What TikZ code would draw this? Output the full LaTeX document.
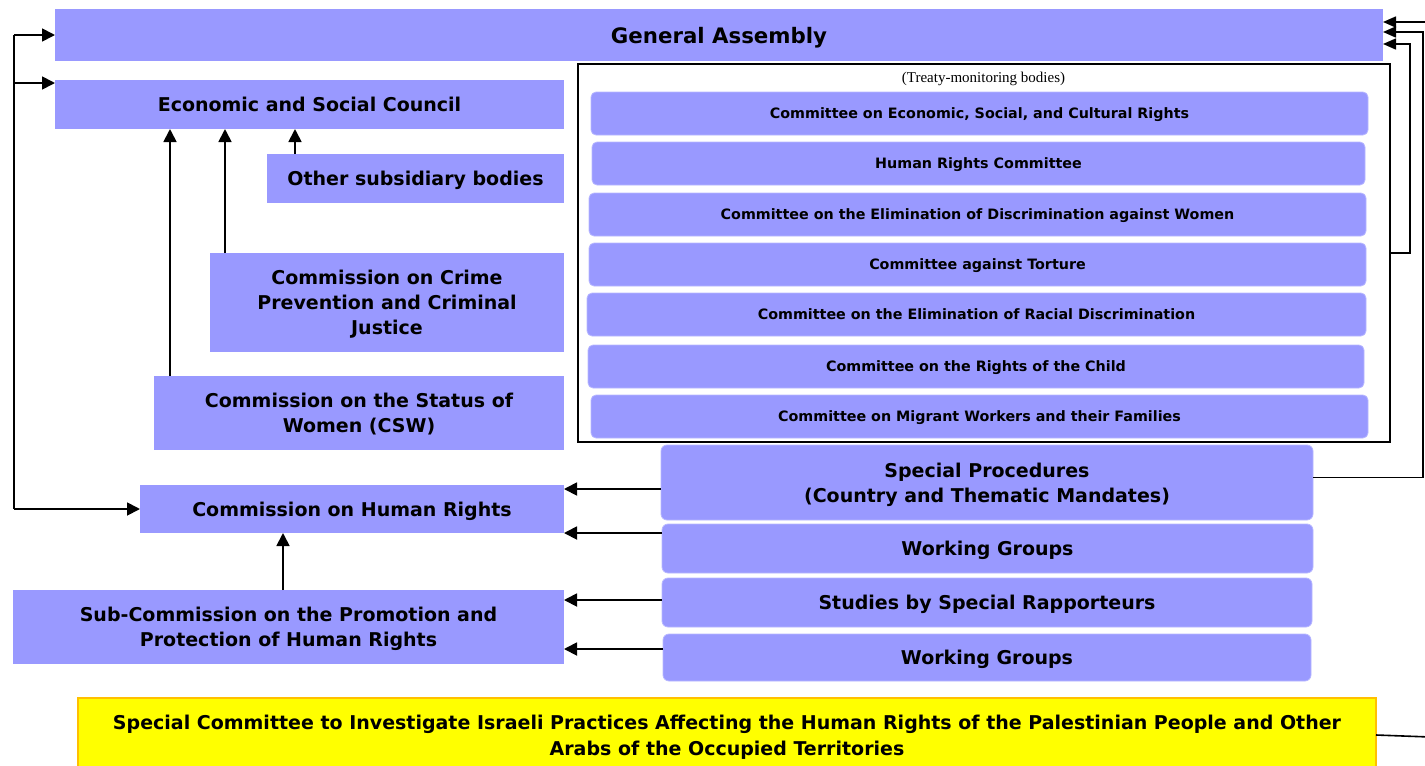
\documentclass[tikz,border=0pt]{standalone}
\usepackage{fontspec}
\setmainfont{DejaVu Sans}
\newfontfamily\labelfont{Liberation Serif}
\usetikzlibrary{arrows.meta}
\definecolor{boxblue}{HTML}{9999FF}
\definecolor{boxedge}{HTML}{B8B8FF}
\definecolor{yel}{HTML}{FFFF00}
\definecolor{yeledge}{HTML}{FFC000}
\tikzset{
  box/.style={fill=boxblue, draw=none, inner sep=0pt, outer sep=0pt, align=center,
    text depth=0pt, font=\bfseries\fontsize{19}{25}\selectfont},
  cbox/.style={fill=boxblue, draw=boxedge, line width=0.8pt, rounded corners=5pt,
    inner sep=0pt, outer sep=0pt, align=center, text depth=0pt,
    font=\bfseries\fontsize{14.3}{17}\selectfont},
  rbox/.style={box, rounded corners=6pt, draw=boxedge, line width=0.8pt},
  arr/.style={line width=1.8pt, -{Triangle[length=13pt,width=13pt]}},
  rarr/.style={line width=1.6pt, -{Triangle[length=13pt,width=11pt]}},
  link/.style={line width=1.8pt},
}
\begin{document}
\begin{tikzpicture}[x=1pt,y=-1pt]
\useasboundingbox (0,0) rectangle (1425,766);

% left column of councils and commissions
\node[box, minimum width=1328, minimum height=52, font=\bfseries\fontsize{21.3}{25}\selectfont] (ga) at (719,35) {General Assembly};
\node[box, minimum width=509, minimum height=49] (eco) at (309.5,104.5) {Economic and Social Council};
\node[box, minimum width=297, minimum height=49] (other) at (415.5,178.5) {Other subsidiary bodies};
\node[box, minimum width=354, minimum height=99] (crime) at (387,302.5) {Commission on Crime\\Prevention and Criminal\\Justice};
\node[box, minimum width=410, minimum height=74] (csw) at (359,413) {Commission on the Status of\\Women (CSW)};
\node[box, minimum width=424, minimum height=48] (chr) at (352,509) {Commission on Human Rights};
\node[box, minimum width=551, minimum height=74] (sub) at (288.5,627) {Sub-Commission on the Promotion and\\Protection of Human Rights};

% treaty-monitoring bodies
\node[draw, line width=1.6pt, minimum width=812, minimum height=378, inner sep=0pt, outer sep=0pt] (tb) at (984,253) {};
\node[font=\labelfont\fontsize{15}{17}\selectfont, inner sep=0pt] (tblabel) at (983.5,79) {(Treaty-monitoring bodies)};
\node[cbox, minimum width=777, minimum height=43] (c1) at (979.5,113.5) {Committee on Economic, Social, and Cultural Rights};
\node[cbox, minimum width=773, minimum height=43] (c2) at (978.5,163.5) {Human Rights Committee};
\node[cbox, minimum width=777, minimum height=43] (c3) at (977.5,214.5) {Committee on the Elimination of Discrimination against Women};
\node[cbox, minimum width=777, minimum height=43] (c4) at (977.5,264.5) {Committee against Torture};
\node[cbox, minimum width=779, minimum height=43] (c5) at (976.5,314.5) {Committee on the Elimination of Racial Discrimination};
\node[cbox, minimum width=776, minimum height=43] (c6) at (976,366.5) {Committee on the Rights of the Child};
\node[cbox, minimum width=777, minimum height=43] (c7) at (979.5,416.5) {Committee on Migrant Workers and their Families};

% mechanisms on the right
\node[rbox, minimum width=652, minimum height=75] (sp) at (987,482.5) {Special Procedures\\(Country and Thematic Mandates)};
\node[rbox, minimum width=651, minimum height=49] (wg1) at (987.5,548.5) {Working Groups};
\node[rbox, minimum width=650, minimum height=49] (st) at (987,602.5) {Studies by Special Rapporteurs};
\node[rbox, minimum width=648, minimum height=47] (wg2) at (987,657.5) {Working Groups};

% special committee
\node[fill=yel, draw=yeledge, line width=1.2pt, minimum width=1298, minimum height=74, inner sep=0pt, outer sep=0pt,
  align=center, text depth=0pt, font=\bfseries\fontsize{19}{26}\selectfont] (sc) at (727,735)
  {Special Committee to Investigate Israeli Practices Affecting the Human Rights of the Palestinian People and Other\\Arabs of the Occupied Territories};

% helper coordinates for the outer routing lines
\coordinate (L) at (14,0);
\coordinate (R1) at (1410,0);
\coordinate (R2) at (1423,0);
\coordinate (scout) at (1430,737);
\coordinate (scin) at (1430,22);
\coordinate (ecoin) at ([yshift=-3pt]eco.north west);
\coordinate (gain1) at ([yshift=-9pt]ga.east);
\coordinate (gain2) at ([yshift=3pt]ga.east);
\coordinate (gain3) at ([yshift=13pt]ga.east);
\coordinate (spout) at ([yshift=5pt]sp.east);

% left loop feeding the principal organs
\draw[link] (L |- ga.west) -- (L |- chr.west);
\draw[arr] (L |- ga.west) -- (ga.west);
\draw[arr] (L |- ecoin) -- (ecoin);
\draw[arr] (L |- chr.west) -- (chr.west);

% reporting lines to ECOSOC
\draw[arr] ([xshift=16pt]csw.north west) -- ([xshift=16pt]csw.north west |- eco.south);
\draw[arr] ([xshift=15pt]crime.north west) -- ([xshift=15pt]crime.north west |- eco.south);
\draw[arr] ([xshift=28pt]other.north west) -- ([xshift=28pt]other.north west |- eco.south);

% lines into the Commission on Human Rights and the Sub-Commission
\draw[arr] ([xshift=-5.5pt]sub.north) -- ([xshift=-5.5pt]sub.north |- chr.south);
\draw[arr] ([yshift=-6.5pt]sp.west) -- ([yshift=-6.5pt]sp.west -| chr.east);
\draw[arr] (wg1.west |- chr.south east) -- (chr.south east);
\draw[arr] ([yshift=2.5pt]st.west) -- ([yshift=2.5pt]st.west -| sub.east);
\draw[arr] ([yshift=8.5pt]wg2.west) -- ([yshift=8.5pt]wg2.west -| sub.east);

% lines up to the General Assembly
\draw[rarr] (tb.east) -- (tb.east -| R1) -- (R1 |- gain1) -- (gain1);
\draw[rarr] (spout) -- (R2 |- spout) -- (R2 |- gain2) -- (gain2);
\draw[link, line width=1.6pt] (sc.east) -- (scout);
\draw[rarr] (scin) -- (gain3);
\end{tikzpicture}
\end{document}
